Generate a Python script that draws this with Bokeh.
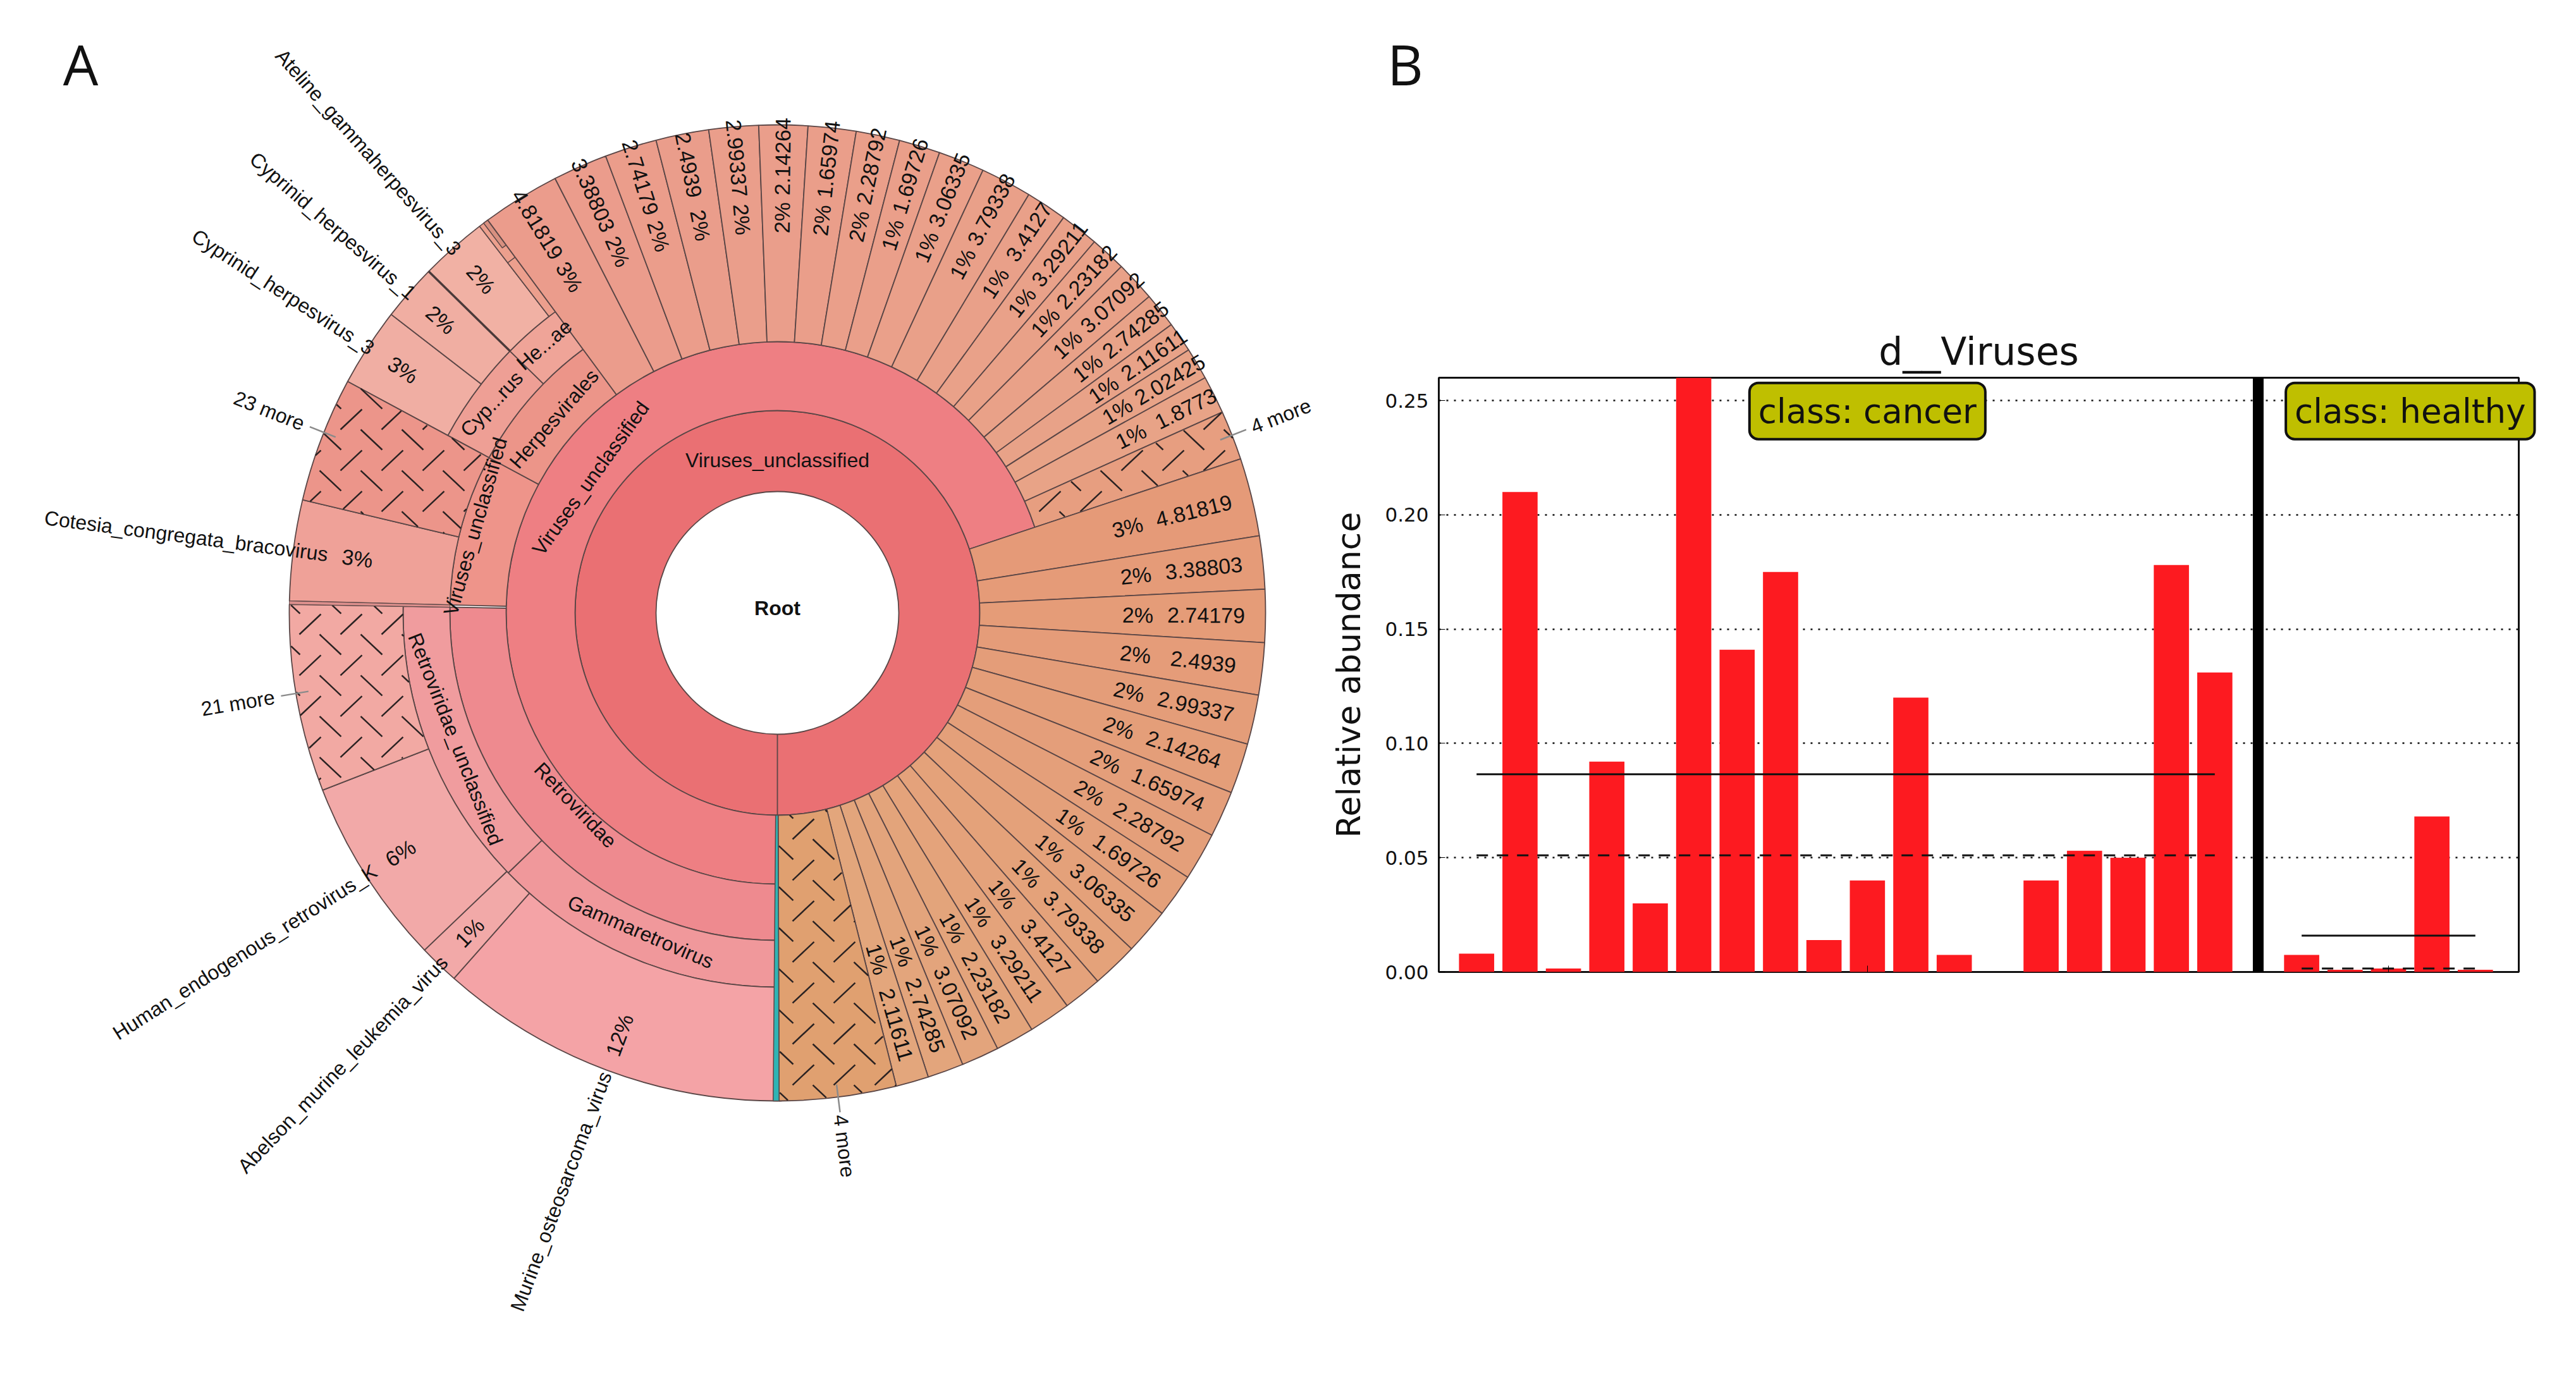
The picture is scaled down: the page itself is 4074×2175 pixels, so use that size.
import math
from bokeh.plotting import figure
from bokeh.models import Range1d, Label, Span, FixedTicker, NumeralTickFormatter
from bokeh.core.properties import value
from bokeh.embed import file_html
from bokeh.resources import INLINE

# ---------- DATA: panel A (wheel) ----------
top_values = ["4.81819","3.38803","2.74179","2.4939","2.99337","2.14264","1.65974","2.28792","1.69726",
              "3.06335","3.79338","3.4127","3.29211","2.23182","3.07092","2.74285","2.11611","2.02425","1.8773"]
top_pct = ["3%","2%","2%","2%","2%","2%","2%","2%","1%","1%","1%","1%","1%","1%","1%","1%","1%","1%","1%"]
top_span = [9.3,6.5,6.2,6.3,5.9,5.8,5.7,5.2,4.9,5.5,6.1,4.9,4.6,4.3,4.8,4.2,3.6,3.8,4.5]
top_more_span = 5.9
right_values = top_values[:17]
right_pct = top_pct[:17]
right_span = [9.3,6.3,6.3,6.2,5.9,6.0,5.5,5.7,5.2,5.5,5.5,4.6,5.0,4.6,4.5,4.3,3.9]
right_more_span = 13.9
# left side leaves: name, percent, start, end (degrees clockwise from north)
left_names = ["Murine_osteosarcoma_virus","Abelson_murine_leukemia_virus","Human_endogenous_retrovirus_K",
              "Cotesia_congregata_bracovirus","Cyprinid_herpesvirus_3","Cyprinid_herpesvirus_1","Ateline_gammaherpesvirus_3"]
left_pct = ["12%","1%","6%","3%","3%","2%","2%"]
left_start = [-180.5,-138.5,-133.7,-88.6,-61.7,-52.3,-45.6]
left_end = [-138.5,-133.7,-111.3,-76.6,-52.3,-45.6,-37.6]
# ---------- DATA: panel B (bars) ----------
cancer_vals = [0.008,0.21,0.0015,0.092,0.03,0.26,0.141,0.175,0.014,0.04,0.12,0.0075,0.0,0.04,0.053,0.05,0.178,0.131]
healthy_vals = [0.0075,0.001,0.0015,0.068,0.001]
cancer_mean, cancer_median = 0.0865, 0.051
healthy_mean, healthy_median = 0.0159, 0.0015
y_ticks = [0.0,0.05,0.10,0.15,0.20,0.25]

# ---------- layout ----------
W1, H = 2000, 2159
WT = 4058
cx, cy = 1221.0, H - 961.0
R = [192, 320, 429, 518, 592, 772]
p1 = figure(width=WT, height=H, x_range=Range1d(0, WT), y_range=Range1d(0, H), toolbar_location=None,
            output_backend="svg", min_border=0)
p1.axis.visible = False
p1.grid.visible = False
p1.outline_line_color = None
p1.background_fill_color = None
p1.border_fill_color = None
p1.styles = {"position": "absolute", "left": "8px", "top": "8px"}
LINE = "#5a4646"
FONT = value("Liberation Sans")

def rad(a):
    return math.radians(90 - a)

def pol(a, r):
    return cx + r*math.cos(rad(a)), cy + r*math.sin(rad(a))

def wedge(a0, a1, r0, r1, color, lw=1.8):
    p1.annular_wedge([cx],[cy],inner_radius=r0,outer_radius=r1,start_angle=rad(a1),end_angle=rad(a0),
                     fill_color=color,line_color=LINE,line_width=lw)

def mix(c0, c1, t):
    a = [int(c0[i:i+2],16) for i in (1,3,5)]
    b = [int(c1[i:i+2],16) for i in (1,3,5)]
    return "#%02x%02x%02x" % tuple(round(u+(v-u)*t) for u,v in zip(a,b))

def text_angle(a):
    return rad(a) + (math.pi if a < 0 else 0)

def txt(a, r, s, size=34, align="center", tangent=False, bold=False, rot=None):
    x, y = pol(a, r)
    ang = rad(a) - math.pi/2 if tangent else text_angle(a)
    if tangent and abs(a) > 90:
        ang += math.pi
    if rot is not None:
        ang = math.radians(rot)
    p1.text([x],[y],text=[s],angle=ang,text_align=align,text_baseline="middle",text_color="#111111",
            text_font=FONT,text_font_size=f"{size}px",text_font_style="bold" if bold else "normal")

def hatch(a0, a1, r0, r1):
    """Herringbone dashes on one page-wide lattice, cut at the edges of the wedge."""
    xs0,ys0,xs1,ys1 = [],[],[],[]
    def inside(x, y):
        dx, dy = x-cx, y-cy
        r = math.hypot(dx,dy)
        a = math.degrees(math.atan2(dx,dy))
        while a < a0: a += 360
        while a > a0+360: a -= 360
        return r0 < r < r1 and a0 < a < a1
    for i in range(-10, 30):
        for j in range(-12, 24):
            for kind in (0,1):
                px = 555 + 65*i + 32*kind
                py = 663 + 64.8*j + 32*kind
                x = px-8; y = H-(py-8)
                s = 1 if kind == 0 else -1
                n = 24
                pts = [(x-17+34*t/n, y-s*16+s*32*t/n) for t in range(n+1)]
                keep = [q for q in pts if inside(*q)]
                if len(keep) >= 2:
                    xs0.append(keep[0][0]); ys0.append(keep[0][1])
                    xs1.append(keep[-1][0]); ys1.append(keep[-1][1])
    p1.segment(xs0,ys0,xs1,ys1,line_color="#2a2222",line_width=2.5)

# inner rings
wedge(180, 540, R[0], R[1], "#ea7073")
wedge(180, 431.6, R[1], R[2], "#ee7f83")
wedge(-180, -89, R[2], R[3], "#ee8a8f")
wedge(-88.6, -61.7, R[2], R[3], "#ee948a")
wedge(-61.7, -36.4, R[2], R[3], "#ec9589")
wedge(-180, -134, R[3], R[4], "#f0989b")
wedge(-134, -89, R[3], R[4], "#f09c9e")
wedge(-61.7, -45.6, R[3], R[4], "#ee9f95")
wedge(-45.6, -36.4, R[3], R[4], "#efa498")

# left leaves
left_cols = ["#f4a3a6","#f2a9a8","#f2a9a8","#efa198","#f0aea3","#f0aea2","#f1b1a4"]
left_inner = [R[4],R[4],R[4],R[3],R[4],R[4],R[4]]
for s,e,c,ri in zip(left_start,left_end,left_cols,left_inner):
    wedge(s,e,ri,R[5],c)
wedge(-111.3,-89,R[4],R[5],"#f2a9a3")
hatch(-111.3,-89,R[4],R[5])
wedge(-76.6,-61.7,R[3],R[5],"#ec958a")
hatch(-76.6,-61.7,R[3],R[5])
wedge(-89,-88.6,R[3],R[5],"#dc8f8c",1)
# thin slivers next to the herpes group
wedge(-37.6,-36.4,R[4],R[5],"#ec9f8d",1.5)
wedge(-37.6,-36.4,R[4],699,"#ec9f8d",1.5)
wedge(-37.0,-36.4,723,R[5],"#d89080",1.5)
xa,ya = pol(-45.6,R[4]); xb,yb = pol(-45.6,R[5])
p1.segment([xa],[ya],[xb],[yb],line_color="#4a3a3a",line_width=3.5)

# top leaves
a = -36.4
top_mid = []
for i,sp in enumerate(top_span):
    wedge(a,a+sp,R[2],R[5],mix("#eb9c8c","#e8a387",i/18))
    top_mid.append(a+sp/2)
    a += sp
wedge(a,a+top_more_span,R[2],R[5],"#e79e80")
hatch(a,a+top_more_span,R[2],R[5])
top_more_mid = a+top_more_span/2
a += top_more_span

# right leaves
right_mid = []
for i,sp in enumerate(right_span):
    wedge(a,a+sp,R[1],R[5],mix("#e59a78","#e3a67c",i/16))
    right_mid.append(a+sp/2)
    a += sp
wedge(a,a+right_more_span,R[1],R[5],"#e0a070")
hatch(a,a+right_more_span,R[1],R[5])
right_more_mid = a+right_more_span/2
a += right_more_span
wedge(a,180.5,R[1],R[5],"#2fb4b4",1.5)

# leaf labels
for m,v,pc in zip(top_mid,top_values,top_pct):
    txt(m,722,v); txt(m,625,pc)
for m,v,pc in zip(right_mid,right_values,right_pct):
    txt(m,678,v); txt(m,570,pc)
name_end = [776,760,755,717,764,764,763]
pct_r = [713,702,707,670,706,706,706]
for s,e,n,pc,ne,pr in zip(left_start,left_end,left_names,left_pct,name_end,pct_r):
    m = (s+e)/2
    txt(m,ne,n,32,align="right")
    txt(m,pr,pc)

# ring labels
txt(0,242,"Viruses_unclassified",32,tangent=True)
txt(-54.2,364,"Viruses_unclassified",32,tangent=True)
txt(-74,497,"Viruses_unclassified",32,tangent=True)
txt(-49,468,"Herpesvirales",32,tangent=True)
txt(-53.8,560,"Cyp...rus",32,rot=47)
txt(-41,562,"He...ae",32,tangent=True)
txt(-133.6,441,"Retroviridae",32,tangent=True)
txt(-156.8,549,"Gammaretrovirus",32,tangent=True)
txt(-111.4,547,"Retroviridae_unclassified",32,tangent=True)
p1.text([cx],[cy+8],text=["Root"],text_align="center",text_baseline="middle",text_font=FONT,
        text_font_size="32px",text_font_style="bold",text_color="#111111")

# "more" labels with leader lines
for m,r,s in [(-68.3,865,"23 more"),(-99.5,865,"21 more"),(top_more_mid,855,"4 more"),(right_more_mid,850,"4 more")]:
    x,y = pol(m,r)
    p1.text([x],[y],text=[s],angle=text_angle(m),text_align="center",text_baseline="middle",text_font=FONT,
            text_font_size="32px",text_color="#111111")
    xa,ya = pol(m,752); xb,yb = pol(m,796)
    p1.segment([xa],[ya],[xb],[yb],line_color="#8a8a8a",line_width=2.5)

p1.add_layout(Label(x=127-8,y=H-(100-8),text="A",text_align="center",text_baseline="middle",
                    text_font="Open Sans",text_font_size="88px",text_color="#111111"))

# ---------- panel B ----------
L = 2275; Rt = 3983; T = 597; B = 1537
W2 = WT - W1
step = (Rt-L)/24.87
x0 = -0.87
x1 = x0 + (Rt-L)/step
ymax = (B-T)/3616
p2 = figure(width=W2, height=H, x_range=Range1d(x0,x1), y_range=Range1d(0,ymax), toolbar_location=None,
            output_backend="svg",
            min_border_left=L-8-W1, min_border_right=W2-(L-8-W1)-(Rt-L), min_border_top=T-8,
            min_border_bottom=H-(B-8), title="d__Viruses")
p2.styles = {"position": "absolute", "left": f"{8+W1}px", "top": "8px"}
p2.title.text_font = "DejaVu Sans"
p2.title.text_font_size = "60px"
p2.title.text_font_style = "normal"
p2.title.align = "center"
p2.title.text_color = "#111111"
p2.title.standoff = 14
p2.outline_line_color = "#111111"
p2.outline_line_width = 3
p2.xgrid.visible = False
p2.ygrid.ticker = FixedTicker(ticks=y_ticks)
p2.ygrid.grid_line_color = "#111111"
p2.ygrid.grid_line_dash = "3 9"
p2.ygrid.grid_line_width = 2.5
p2.yaxis.ticker = FixedTicker(ticks=y_ticks)
p2.yaxis.formatter = NumeralTickFormatter(format="0.00")
p2.yaxis.axis_label = "Relative abundance"
p2.yaxis.axis_label_text_font = "DejaVu Sans"
p2.yaxis.axis_label_text_font_size = "52px"
p2.yaxis.axis_label_text_font_style = "normal"
p2.yaxis.axis_label_text_color = "#111111"
p2.yaxis.axis_label_standoff = 24
p2.yaxis.major_label_standoff = 16
p2.yaxis.major_label_text_font = "DejaVu Sans"
p2.yaxis.major_label_text_font_size = "31px"
p2.yaxis.major_label_text_color = "#111111"
p2.yaxis.major_tick_in = 10
p2.yaxis.major_tick_out = 0
p2.yaxis.minor_tick_line_color = None
p2.yaxis.axis_line_color = None
p2.xaxis.ticker = FixedTicker(ticks=[9,21])
p2.xaxis.major_label_text_color = None
p2.xaxis.major_tick_in = 10
p2.xaxis.major_tick_out = 0
p2.xaxis.axis_line_color = None
p2.xaxis.minor_tick_line_color = None

cancer_x = list(range(len(cancer_vals)))
healthy_x = [19+i for i in range(len(healthy_vals))]
p2.vbar(x=cancer_x+healthy_x, top=cancer_vals+healthy_vals, width=0.81, fill_color="#fd1a20", line_color=None)
p2.add_layout(Span(location=18, dimension="height", line_color="#000000", line_width=17))
p2.line([0,17],[cancer_mean]*2,line_color="#111111",line_width=3)
p2.line([0,17],[cancer_median]*2,line_color="#111111",line_width=3,line_dash="18 14")
p2.line([19,23],[healthy_mean]*2,line_color="#111111",line_width=3)
p2.line([19,23],[healthy_median]*2,line_color="#111111",line_width=3,line_dash="18 14")

# boxes and "B" go on the transparent top layer, since they stick out of panel B's frame
for xv,s in [(9,"class: cancer"),(21.5,"class: healthy")]:
    p1.add_layout(Label(x=L+(xv-x0)*step-8,y=H-(B-0.2454*3616-8),text=s,text_align="center",text_baseline="middle",
                        text_font="DejaVu Sans",text_font_size="53px",text_color="#111111",
                        background_fill_color="#bfbf00",border_line_color="#111111",border_line_width=4,
                        padding=14,border_radius=14))
p1.add_layout(Label(x=2222-8,y=H-(100-8),text="B",text_align="center",text_baseline="middle",
                    text_font="Open Sans",text_font_size="88px",text_color="#111111"))

open("out.html","w").write(file_html([p2,p1],INLINE))
